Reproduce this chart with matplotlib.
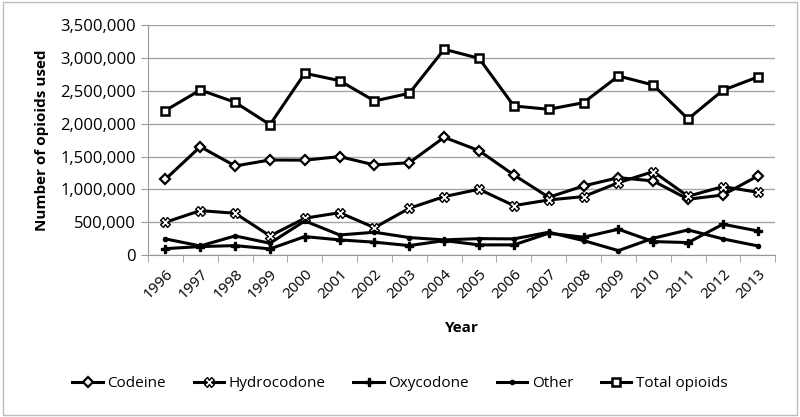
import numpy as np
import matplotlib.pyplot as plt
from matplotlib.ticker import FuncFormatter, FixedLocator

years = list(range(1996, 2014))

codeine = [1155000, 1650000, 1357000, 1448000, 1445000, 1499000, 1372000, 1407000, 1793000,
           1590000, 1220000, 881000, 1053000, 1179000, 1129000, 851000, 916000, 1205000]
hydrocodone = [501000, 678000, 638000, 293000, 562000, 647000, 419000, 714000, 891000,
               1003000, 754000, 840000, 891000, 1103000, 1271000, 896000, 1043000, 957000]
oxycodone = [100000, 131000, 146000, 96000, 283000, 233000, 198000, 146000, 222000,
             157000, 157000, 334000, 274000, 395000, 207000, 192000, 471000, 369000]
other = [248000, 141000, 293000, 182000, 521000, 308000, 349000, 268000, 233000,
         252000, 248000, 349000, 222000, 70000, 258000, 384000, 248000, 141000]
total = [2200000, 2512000, 2325000, 1985000, 2766000, 2654000, 2345000, 2462000, 3131000,
         2994000, 2269000, 2219000, 2319000, 2725000, 2588000, 2071000, 2508000, 2710000]

plt.rcParams['font.family'] = ['Open Sans', 'DejaVu Sans']

fig = plt.figure(figsize=(8, 4.17), dpi=100)
ax = fig.add_axes([0.185, 0.388, 0.784, 0.552])

# outer border of the chart
fig.patches.append(plt.Rectangle((0.004, 0.005), 0.992, 0.99, transform=fig.transFigure,
                                 fill=False, edgecolor='#bdbdbd', linewidth=1))

x = np.arange(len(years))
lw = 2.2
ax.plot(x, codeine, color='black', lw=lw, marker='D', ms=5, mfc='white', mec='black', mew=1.6, label='Codeine')
ax.plot(x, hydrocodone, color='black', lw=lw, marker='X', ms=6.5, mfc='white', mec='black', mew=1.0, label='Hydrocodone')
ax.plot(x, oxycodone, color='black', lw=lw, marker='P', ms=5.5, mfc='black', mec='black', label='Oxycodone')
ax.plot(x, other, color='black', lw=lw, marker='o', ms=3, mfc='black', mec='black', label='Other')
ax.plot(x, total, color='black', lw=lw, marker='s', ms=6, mfc='white', mec='black', mew=1.8, label='Total opioids')

ax.set_xlim(-0.5, len(years) - 0.5)
ax.set_ylim(0, 3500000)
ax.set_yticks(np.arange(0, 3500001, 500000))
ax.yaxis.set_major_formatter(FuncFormatter(lambda v, p: f'{int(v):,}'))
ax.set_xticks(x)
ax.set_xticklabels([str(y) for y in years], rotation=45, ha='right', rotation_mode='anchor', fontsize=11)
ax.tick_params(axis='x', length=0, pad=8)
ax.xaxis.set_minor_locator(FixedLocator(np.arange(-0.5, len(years), 1)))
ax.tick_params(axis='x', which='minor', length=5, color='#999999', direction='out')
ax.tick_params(axis='y', labelsize=12, length=5, color='#999999')

ax.grid(axis='y', color='#a6a6a6', linewidth=1)
ax.set_axisbelow(True)
for s in ['top', 'right']:
    ax.spines[s].set_visible(False)
ax.spines['left'].set_color('#999999')
ax.spines['bottom'].set_color('#999999')

ax.set_ylabel('Number of opioids used', fontsize=11, fontweight='bold', labelpad=8)
ax.set_xlabel('Year', fontsize=11, fontweight='bold', labelpad=14)

fig.legend(loc='center', bbox_to_anchor=(0.5, 0.08), ncol=5, frameon=False, fontsize=11,
           handlelength=2.0, columnspacing=1.8, handletextpad=0.3)

fig.savefig('out.png', dpi=100)
